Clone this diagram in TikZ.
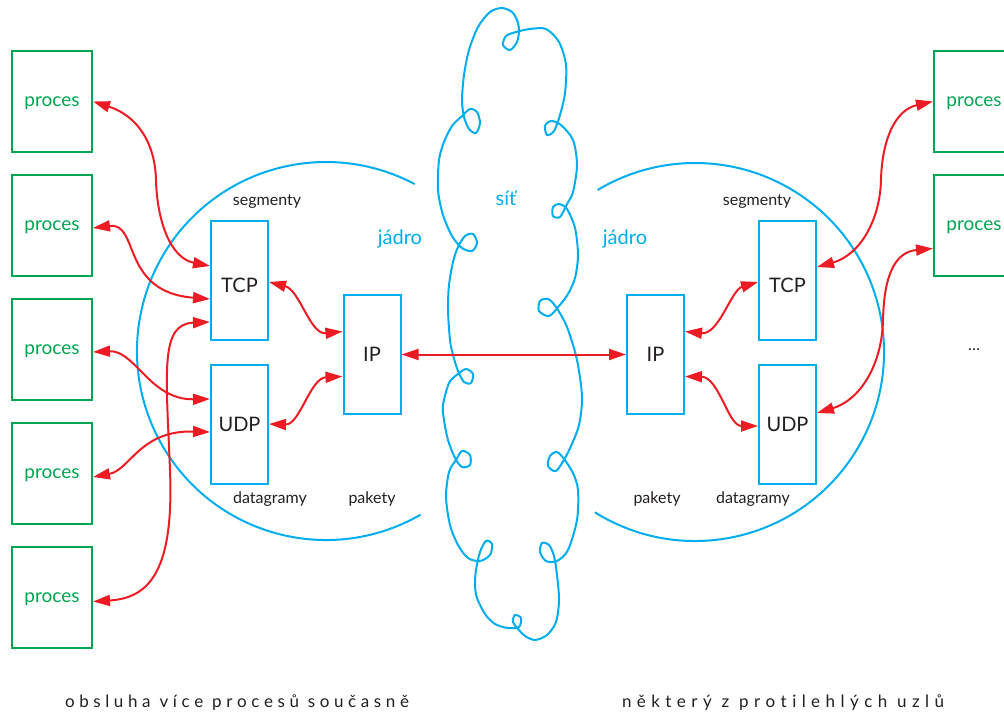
\documentclass[tikz,border=0pt]{standalone}
\usepackage{fontspec}
\setmainfont{Lato}
\newfontfamily\spacedfont[LetterSpace=27,Ligatures=NoCommon,Kerning=Off]{Lato}
\usetikzlibrary{arrows.meta,positioning}
\definecolor{ink}{HTML}{231F20}
\definecolor{procc}{HTML}{00A651}
\definecolor{netc}{HTML}{00AEEF}
\definecolor{linkc}{HTML}{ED1C24}
\tikzset{
  proc/.style={draw=procc,line width=2pt,minimum width=80pt,minimum height=101pt,text=procc,text depth=0pt,font=\fontsize{19}{21}\selectfont},
  layer/.style={draw=netc,line width=2pt,minimum width=57pt,minimum height=119pt,font=\fontsize{20}{22}\selectfont},
  tag/.style={font=\fontsize{16}{18}\selectfont},
  kernel/.style={text=netc,font=\fontsize{20}{22}\selectfont},
  ring/.style={netc,line width=2pt},
  link/.style={linkc,line width=2pt,{Triangle[length=17pt,width=11pt]}-{Triangle[length=17pt,width=11pt]}},
}
\begin{document}
\begin{tikzpicture}[x=1pt,y=-1pt,node distance=21pt,every node/.style={text=ink}]
\useasboundingbox (0,0) rectangle (1004,715);
\clip (0,0) rectangle (1004,715);
% processes
\node[proc] (pL1) at (52,101.5) {proces};
\node[proc,below=of pL1] (pL2) {proces};
\node[proc,below=of pL2] (pL3) {proces};
\node[proc,below=of pL3] (pL4) {proces};
\node[proc,below=of pL4] (pL5) {proces};
\node[proc] (pR1) at (974,101.5) {proces};
\node[proc,below=of pR1] (pR2) {proces};
\node[tag] (more) at (974,350) {\dots};
% kernels of both hosts
\draw[ring] (326,351) ++(60:189) arc[start angle=60,end angle=298,radius=189];
\draw[ring] (695,352) ++(122:189) arc[start angle=122,end angle=-121,radius=189];
% the network
\draw[ring] plot[smooth cycle] coordinates {
  (502,8) (512,12) (517,20) (519,30) (517,42) (510,50) (503,45) (506,36) (516,32) (530,29)
  (546,29) (559,42) (566,65) (565,93) (560,115) (554,131) (547,135) (545,126) (551,121) (561,125)
  (573,140) (577,165) (573,192) (567,204) (560,217) (553,216) (553,207) (559,204) (567,209) (575,228)
  (578,255) (575,278) (568,294) (559,306) (549,316) (539,311) (540,301) (548,299) (556,307) (567,327)
  (577,360) (582,397) (579,425) (571,446) (565,458) (556,471) (548,466) (550,456) (557,452) (564,459)
  (573,473) (578,490) (577,520) (568,550) (557,561) (546,561) (540,552) (542,543) (549,545) (554,556)
  (557,575) (559,600) (556,622) (547,635) (535,640) (525,636) (519,630) (513,622) (515,615) (521,618)
  (519,627) (508,628) (495,624) (485,614) (477,598) (475,585) (476,570) (480,552) (486,541) (492,544)
  (490,555) (480,561) (468,558) (458,545) (450,525) (446,497) (449,472) (456,460) (462,451) (470,455)
  (470,465) (462,467) (455,458) (448,440) (444,420) (443,405) (449,383) (458,374) (466,369) (473,374)
  (471,383) (464,382) (458,371) (453,355) (450,340) (448,310) (449,285) (453,262) (458,247) (465,236)
  (473,234) (477,243) (472,251) (462,248) (452,236) (443,215) (438,190) (439,160) (444,142) (452,126)
  (462,116) (470,109) (477,112) (480,123) (476,133) (469,129) (464,117) (462,100) (464,75) (469,50)
  (478,27) (490,12)};
% protocol layers
\node[layer,text height=26pt] (tcpL) at (239.5,280) {TCP};
\node[layer,below=23pt of tcpL] (udpL) {UDP};
\node[layer] (ipL) at (372,354.5) {IP};
\node[layer] (ipR) at (655.5,354.5) {IP};
\node[layer,text height=26pt] (tcpR) at (787.5,280) {TCP};
\node[layer,below=23pt of tcpR] (udpR) {UDP};
% labels
\node[tag] (segL) at (267,202) {segmenty};
\node[tag] (segR) at (757,202) {segmenty};
\node[kernel] (jadL) at (400,239) {jádro};
\node[kernel] (jadR) at (625,239) {jádro};
\node[kernel] (net) at (506,198) {síť};
\node[tag] (dgL) at (270,499) {datagramy};
\node[tag] (dgR) at (753,499) {datagramy};
\node[tag] (pkL) at (372,499) {pakety};
\node[tag] (pkR) at (657,499) {pakety};
\node[tag,font=\fontsize{17}{19}\selectfont] (capL) at (237,703) {\spacedfont obsluha více procesů současně};
\node[tag,font=\fontsize{17}{19}\selectfont] (capR) at (783,703) {\spacedfont\addfontfeature{LetterSpace=32} některý z protilehlých uzlů};
% connections
\draw[link] (pL1.east) .. controls (135,115) and (155,140) .. (156,180)
  .. controls (157,220) and (170,258) .. ([yshift=14pt]tcpL.west);
\draw[link] ([yshift=-2.5pt]pL2.east) .. controls (140,222) and (120,292) .. ([yshift=-19pt]tcpL.west);
\draw[link] ([yshift=-2.5pt]pL3.east) .. controls (135,350) and (150,400) .. ([yshift=25pt]udpL.west);
\draw[link] ([yshift=-3.5pt]pL4.east) .. controls (130,470) and (140,430) .. ([yshift=-8pt]udpL.west);
\draw[link] ([yshift=-4pt]pL5.east) .. controls (150,598) and (174,570) .. (170,470)
  .. controls (166,370) and (160,324) .. ([yshift=-42pt]tcpL.west);
\draw[link] ([yshift=-2pt]tcpL.east) .. controls (300,290) and (310,335) .. ([yshift=23pt]ipL.west);
\draw[link] (udpL.east) .. controls (300,425) and (310,378) .. ([yshift=-22pt]ipL.west);
\draw[link] (ipL) -- (ipR);
\draw[link] ([yshift=23pt]ipR.east) .. controls (719,335) and (731,290) .. ([yshift=-2pt]tcpR.west);
\draw[link] ([yshift=-22pt]ipR.east) .. controls (719,377) and (728,426) .. ([yshift=-2pt]udpR.west);
\draw[link] (pR1.west) .. controls (895,110) and (882,140) .. (881,180)
  .. controls (880,220) and (860,255) .. ([yshift=13pt]tcpR.east);
\draw[link] ([yshift=-23pt]pR2.west) .. controls (895,252) and (884,275) .. (883,320)
  .. controls (882,365) and (860,400) .. ([yshift=11pt]udpR.east);
\end{tikzpicture}
\end{document}
